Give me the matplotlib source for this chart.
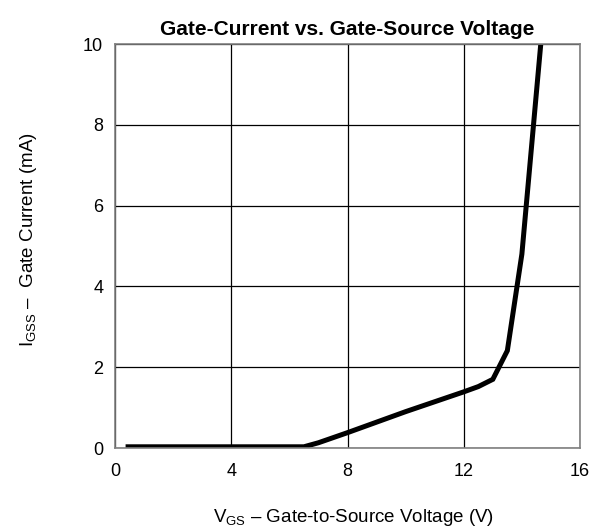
import matplotlib
matplotlib.use("Agg")
import matplotlib.pyplot as plt

plt.rcParams["font.family"] = ["Liberation Sans", "DejaVu Sans"]
plt.rcParams["mathtext.fontset"] = "custom"
plt.rcParams["mathtext.rm"] = "Liberation Sans"

# gate-source voltage (V) and gate current (mA)
vgs = [0.45, 6.5, 7.0, 8.0, 10.0, 12.0, 12.5, 13.0, 13.5, 14.0, 14.65]
igss = [0.03, 0.03, 0.13, 0.38, 0.9, 1.39, 1.52, 1.70, 2.41, 4.8, 10.0]

x_ticks = [0, 4, 8, 12, 16]
y_ticks = [0, 2, 4, 6, 8, 10]

fig = plt.figure(figsize=(5.91, 5.27), dpi=100)
ax = fig.add_axes([0.1946, 0.1499, 0.7868, 0.7666])

ax.plot(vgs, igss, color="black", linewidth=3.6, solid_joinstyle="miter")

ax.set_xlim(0, 16)
ax.set_ylim(0, 10)
ax.set_xticks(x_ticks)
ax.set_yticks(y_ticks)
ax.grid(True, color="black", linewidth=0.9)
ax.set_axisbelow(True)
ax.tick_params(length=0, labelsize=13)
ax.tick_params(axis="x", pad=11)
ax.tick_params(axis="y", pad=8.5)
for s in ax.spines.values():
    s.set_color("#808080")
    s.set_linewidth(1.2)

ax.set_title("Gate-Current vs. Gate-Source Voltage", fontsize=15, fontweight="bold", pad=6.5)

ax.set_xlabel(r"$\mathregular{V_{GS}}$ – Gate-to-Source Voltage (V)", fontsize=13.5)
ax.xaxis.label.set_va("baseline")
ax.xaxis.set_label_coords(0.512, -0.183)

ax.set_ylabel(r"$\mathregular{I_{GSS}}$ –  Gate Current (mA)", fontsize=13.5)
ax.yaxis.label.set_va("baseline")
ax.yaxis.set_label_coords(-0.176, 0.515)

fig.savefig("out.png", dpi=100)
